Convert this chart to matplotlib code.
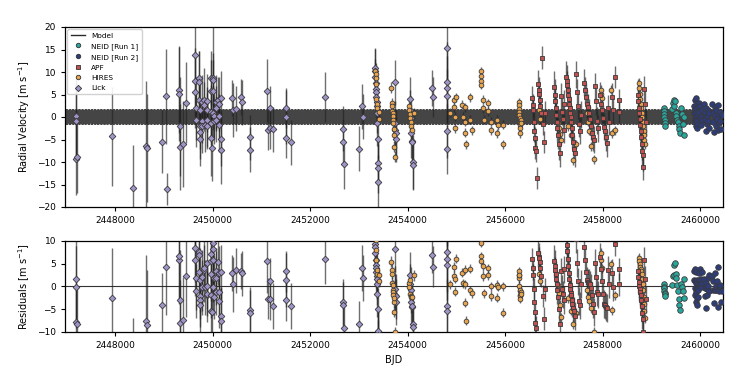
import numpy as np
import matplotlib
matplotlib.use("Agg")
import matplotlib.pyplot as plt
from matplotlib.lines import Line2D
from matplotlib.ticker import MultipleLocator, ScalarFormatter

# rows: BJD, RV [m/s], error [m/s]
lick_rows = [
    (2447195, -9.3, 8.0), (2447200, 0.3, 10.0), (2447210, -0.9, 9.0), (2447215, -8.8, 8.0),
    (2447943, -4.3, 11.0), (2448374, -15.8, 9.5), (2448630, -6.5, 14.5), (2448650, -6.8, 12.0),
    (2448968, -5.5, 7.0), (2449040, 4.6, 10.5), (2449060, -16.0, 3.5),
    (2449310, 6.0, 9.5), (2449318, 5.2, 10.5), (2449325, -2.0, 11.0), (2449330, -6.7, 9.5),
    (2449399, -6.0, 9.5), (2449461, 3.2, 9.0),
    (2449640, 13.8, 6.5), (2449645, 7.9, 7.5), (2449650, 5.6, 8.0), (2449655, 2.0, 7.0), (2449660, -0.6, 6.0),
    (2449720, 8.7, 6.0), (2449725, 7.7, 7.0), (2449730, 3.8, 5.0), (2449735, 1.6, 7.0),
    (2449740, -2.1, 5.0), (2449745, -3.3, 6.0), (2449750, -4.8, 6.0),
    (2449783, 3.4, 6.0), (2449786, -0.8, 5.0), (2449790, -1.9, 6.0),
    (2449830, 3.8, 7.0), (2449834, 2.7, 5.0), (2449838, -1.7, 6.0),
    (2449877, 3.6, 6.0), (2449880, 1.6, 5.0), (2449884, -0.6, 6.0), (2449888, -2.1, 5.0),
    (2449962, 8.7, 6.0), (2449966, 5.7, 7.0), (2449970, 1.2, 6.0), (2449973, -1.3, 5.0),
    (2449976, -4.7, 8.5), (2449980, -6.8, 7.5),
    (2450010, 8.7, 11.5), (2450014, 8.3, 6.0), (2450017, 5.7, 7.0), (2450020, 0.9, 6.0),
    (2450023, 0.2, 5.0), (2450026, -0.9, 5.0),
    (2450069, 3.4, 6.0), (2450072, 1.9, 5.0), (2450075, -0.6, 5.0),
    (2450120, 3.8, 5.0), (2450124, 2.8, 6.0), (2450128, 0.2, 5.0), (2450132, -1.8, 6.0),
    (2450172, 4.2, 6.0), (2450176, -4.8, 6.0), (2450180, -7.3, 7.5),
    (2450410, 4.2, 4.0), (2450415, 1.5, 6.0), (2450480, 1.8, 5.0),
    (2450590, 4.4, 4.0), (2450598, 3.3, 5.0), (2450770, -4.5, 5.0), (2450776, -7.3, 5.0),
    (2451125, 5.8, 7.0), (2451130, -2.8, 4.5), (2451183, 2.0, 5.0), (2451186, -2.5, 4.5),
    (2451231, -2.7, 5.0), (2451500, 2.0, 4.5), (2451505, -0.1, 6.0), (2451510, -4.7, 4.5),
    (2451608, -5.6, 5.0), (2452312, 4.4, 5.5),
    (2452675, -2.6, 5.0), (2452681, -5.5, 5.0), (2452687, -10.4, 5.5),
    (2453009, -7.0, 5.0), (2453070, 2.4, 5.0), (2453080, 0.1, 5.0),
    (2453330, 10.9, 4.5), (2453335, 10.2, 5.0), (2453340, 9.0, 4.0), (2453345, 7.5, 4.5),
    (2453350, 6.3, 5.0), (2453355, 5.5, 4.0), (2453360, 4.4, 4.5), (2453365, 3.3, 5.0),
    (2453370, 2.4, 4.0), (2453375, 1.0, 4.5), (2453380, -1.4, 5.0), (2453385, -4.9, 4.5),
    (2453390, -10.2, 5.0), (2453395, -11.4, 5.5), (2453400, -14.4, 6.0),
    (2453740, 7.7, 5.0), (2453745, -1.4, 5.0), (2453750, -2.9, 4.5), (2453755, -3.5, 5.0),
    (2453760, -4.9, 5.0),
    (2454050, 4.0, 5.0), (2454060, 1.5, 4.5), (2454070, -0.3, 5.0), (2454080, -3.5, 5.5),
    (2454090, -5.3, 5.0), (2454100, -5.5, 4.5), (2454110, -9.9, 6.0), (2454120, -10.7, 5.5),
    (2454505, 6.5, 4.0), (2454515, 4.4, 4.5),
    (2454800, 15.4, 8.0), (2454803, 7.7, 9.0), (2454806, 6.5, 7.0), (2454809, 4.6, 6.0),
    (2454812, -3.2, 6.0), (2454815, -7.2, 5.5),
]

hires_rows = [
    (2453342, 10.2, 1.2), (2453348, 9.5, 1.2), (2453352, 8.6, 1.2), (2453358, 7.3, 1.2),
    (2453362, 4.0, 1.2), (2453368, 2.8, 1.2), (2453372, 2.0, 1.2), (2453410, 1.2, 1.2),
    (2453415, -0.4, 1.2),
    (2453665, 6.5, 1.2), (2453672, 3.1, 1.2), (2453680, 2.4, 1.2), (2453688, 1.4, 1.2),
    (2453695, 0.8, 1.2), (2453700, 0.2, 1.2), (2453705, -0.6, 1.2), (2453712, -1.4, 1.2),
    (2453720, -2.7, 1.2), (2453726, -4.0, 1.2), (2453732, -6.6, 1.2), (2453738, -8.8, 1.2),
    (2454030, 2.5, 1.2), (2454040, 1.6, 1.2), (2454048, 0.6, 1.2), (2454055, -0.3, 1.2),
    (2454065, -1.2, 1.2), (2454075, -2.0, 1.2), (2454085, -2.8, 1.2), (2454130, 0.8, 1.2),
    (2454870, 1.0, 1.0), (2454957, 3.8, 1.0), (2454962, 2.2, 1.0), (2454966, 0.1, 1.0),
    (2454970, -2.5, 1.0), (2454990, 4.4, 1.0),
    (2455125, 2.7, 1.0), (2455130, 0.1, 1.0), (2455180, 2.2, 1.0), (2455184, -1.0, 1.0),
    (2455188, -3.5, 1.0), (2455192, -6.0, 1.0), (2455285, 4.4, 1.0), (2455290, -0.6, 1.0),
    (2455320, -2.9, 1.0),
    (2455505, 10.2, 1.0), (2455509, 9.2, 1.0), (2455513, 7.9, 1.0), (2455517, 7.2, 1.0),
    (2455545, 3.8, 1.0), (2455550, 2.0, 1.0), (2455570, -0.6, 1.0),
    (2455655, 3.1, 1.0), (2455660, 1.3, 1.0), (2455710, -1.0, 1.0), (2455715, -2.9, 1.0),
    (2455830, -0.6, 1.0), (2455835, -3.6, 1.0), (2455860, -1.8, 1.0),
    (2455962, -1.7, 1.0), (2455968, -6.0, 1.0),
    (2456280, 3.3, 1.0), (2456284, 2.6, 1.0), (2456288, 1.8, 1.0), (2456292, 1.1, 1.0),
    (2456296, 0.4, 1.0), (2456300, -0.3, 1.0), (2456304, -1.0, 1.0), (2456308, -1.7, 1.0),
    (2456312, -2.5, 1.0), (2456316, -3.6, 1.0), (2456325, -0.6, 1.0), (2456330, -1.4, 1.0),
    (2456700, 1.6, 1.0), (2456720, -0.5, 1.0), (2457080, -1.3, 1.0), (2457100, -2.5, 1.0),
    (2457120, -3.8, 1.0), (2457150, -5.2, 1.0), (2457300, -2.0, 1.0), (2457350, -4.0, 1.0),
    (2457400, -9.6, 1.0), (2457460, -6.0, 1.0), (2457680, 0.8, 1.0), (2457700, -1.0, 1.0),
    (2457720, -3.0, 1.0), (2457760, -6.5, 1.0), (2457820, -9.4, 1.0),
    (2457960, 6.1, 1.0), (2457975, 5.2, 1.0), (2457990, 4.3, 1.0),
    (2458180, 6.1, 1.0), (2458200, -3.6, 1.0), (2458260, -2.9, 1.0),
    (2458740, 7.6, 1.0), (2458750, 6.5, 1.0), (2458760, 5.2, 1.0), (2458770, 4.0, 1.0),
    (2458780, 3.0, 1.0), (2458790, 2.0, 1.0), (2458800, 1.0, 1.0), (2458810, 0.0, 1.0),
    (2458820, -1.0, 1.0), (2458830, -2.0, 1.0), (2458840, -3.0, 1.0), (2458850, -4.0, 1.0),
    (2458860, -5.0, 1.0), (2458870, -6.0, 1.0),
]

apf_rows = [
    (2456560, 4.3, 2.5), (2456570, 2.6, 2.5), (2456580, 1.5, 2.5), (2456590, -1.0, 2.5),
    (2456600, -3.1, 2.5), (2456610, -4.7, 2.5), (2456620, -6.8, 2.5), (2456630, -7.5, 2.5),
    (2456650, -13.6, 2.5), (2456680, 7.4, 3.0), (2456690, 6.0, 3.0), (2456700, 5.2, 2.5),
    (2456710, 3.8, 2.5), (2456720, 2.4, 2.5), (2456740, 0.8, 2.5), (2456760, 13.2, 2.5),
    (2456780, -1.5, 2.5), (2456800, -5.6, 2.5), (2456820, 1.0, 2.5),
    (2457010, 6.7, 3.5), (2457020, 5.0, 3.5), (2457030, 3.5, 3.0), (2457040, 2.0, 3.0),
    (2457050, 0.5, 3.0), (2457060, -1.0, 3.0), (2457070, -2.5, 3.0), (2457080, -4.0, 3.0),
    (2457100, -6.0, 3.5), (2457120, -8.1, 3.0), (2457140, 4.6, 3.0), (2457160, 1.2, 3.0),
    (2457180, -0.5, 3.0), (2457200, -2.8, 3.0), (2457215, 3.0, 3.0),
    (2457260, 9.0, 3.5), (2457270, 8.0, 3.5), (2457280, 7.2, 3.0), (2457290, 6.0, 3.0),
    (2457300, 5.0, 3.0), (2457310, 4.0, 3.0), (2457320, 3.0, 3.0), (2457330, 2.0, 3.0),
    (2457340, 1.0, 3.0), (2457350, 0.0, 3.0), (2457360, -1.0, 3.0), (2457370, -2.5, 3.0),
    (2457380, -4.0, 3.0), (2457390, -5.5, 3.0), (2457410, -7.0, 3.0), (2457430, -8.1, 3.0),
    (2457450, 9.5, 3.0), (2457470, 5.5, 3.0), (2457490, 2.5, 3.0), (2457510, -1.5, 3.0),
    (2457530, -3.0, 3.0), (2457550, 0.5, 3.0),
    (2457620, 7.6, 3.0), (2457640, 6.0, 3.0), (2457660, 4.5, 3.0), (2457680, 3.0, 3.0),
    (2457700, 2.2, 3.0), (2457720, 1.0, 3.0), (2457740, -0.5, 3.0), (2457760, -2.0, 3.0),
    (2457780, -3.5, 3.0), (2457800, -4.5, 3.0), (2457820, -5.1, 3.0), (2457850, 6.8, 3.0),
    (2457870, 3.5, 3.0), (2457890, -0.8, 3.0), (2457910, -2.5, 3.0),
    (2457950, 4.8, 3.0), (2457970, 3.0, 3.0), (2457990, 1.6, 3.0), (2458010, -0.3, 3.0),
    (2458030, -2.2, 3.0), (2458050, -3.0, 3.0), (2458070, -4.5, 3.0), (2458090, -5.8, 3.0),
    (2458110, 2.0, 3.0), (2458130, -1.0, 3.0), (2458190, 4.5, 3.0), (2458210, 1.5, 3.0),
    (2458250, 8.9, 2.5), (2458330, 3.7, 2.5), (2458345, 1.2, 2.5),
    (2458720, 5.0, 3.5), (2458735, 3.5, 3.5), (2458745, 2.0, 3.5), (2458755, 0.8, 3.5),
    (2458765, -0.5, 3.5), (2458775, -1.8, 3.5), (2458785, -3.0, 3.5), (2458795, -4.5, 3.5),
    (2458805, -6.0, 3.5), (2458815, -7.5, 3.5), (2458825, -8.5, 3.5), (2458835, -11.1, 3.0),
    (2458860, 6.2, 3.0), (2458880, 3.0, 3.0), (2458900, -1.2, 3.0),
]

neid1_rows = [
    (2459255, 2.0, 0.4), (2459260, 1.3, 0.4), (2459265, 0.7, 0.4), (2459270, 0.0, 0.4),
    (2459275, -0.7, 0.4), (2459280, -1.4, 0.4), (2459285, -2.0, 0.4),
    (2459430, 1.8, 0.4), (2459445, 3.2, 0.4), (2459460, 2.5, 0.4), (2459475, 3.8, 0.4),
    (2459490, 3.5, 0.4), (2459500, 1.0, 0.4), (2459515, 0.2, 0.4), (2459530, -0.6, 0.4),
    (2459545, -1.2, 0.4), (2459560, -2.0, 0.4), (2459575, -2.6, 0.4), (2459590, -3.6, 0.4),
    (2459605, 2.0, 0.4), (2459620, 0.6, 0.4), (2459640, -1.5, 0.4), (2459660, -4.0, 0.4),
    (2459680, 0.0, 0.4),
]

neid2_rows = [
    (2459880, 2.5, 0.3), (2459885, 0.8, 0.3), (2459890, -0.5, 0.3), (2459895, 3.8, 0.3),
    (2459900, 1.6, 0.3), (2459905, -1.2, 0.3), (2459910, 4.2, 0.3), (2459915, 2.0, 0.3),
    (2459920, 0.2, 0.3), (2459925, -2.0, 0.3), (2459930, 3.0, 0.3), (2459935, 1.0, 0.3),
    (2459940, -0.8, 0.3), (2459945, -2.5, 0.3), (2459950, 2.2, 0.3), (2459955, 0.5, 0.3),
    (2459965, -1.5, 0.3), (2459975, 3.2, 0.3), (2459985, 1.2, 0.3), (2459995, -0.3, 0.3),
    (2460005, 2.4, 0.3), (2460015, 0.0, 0.3), (2460025, -1.8, 0.3), (2460035, 1.5, 0.3),
    (2460045, -0.6, 0.3),
    (2460090, 2.9, 0.3), (2460100, 1.2, 0.3), (2460110, -0.5, 0.3), (2460120, -3.1, 0.3),
    (2460130, 2.0, 0.3), (2460140, 0.3, 0.3), (2460150, -1.6, 0.3), (2460160, 1.5, 0.3),
    (2460170, -0.9, 0.3), (2460180, -2.4, 0.3), (2460190, 0.8, 0.3),
    (2460250, 2.9, 0.3), (2460262, 0.9, 0.3), (2460274, -1.0, 0.3), (2460286, -3.3, 0.3),
    (2460298, 2.2, 0.3), (2460310, 0.2, 0.3), (2460322, -2.0, 0.3), (2460334, 1.6, 0.3),
    (2460346, -0.4, 0.3), (2460358, -2.8, 0.3), (2460370, 2.6, 0.3), (2460382, 0.6, 0.3),
    (2460394, -1.4, 0.3), (2460406, 1.2, 0.3), (2460418, -0.8, 0.3), (2460430, -2.6, 0.3),
    (2460440, 0.4, 0.3),
]

# simple circular model (semi-amplitude, period)
model_amp = 1.7
model_period = 4.86
model_t0 = 2450000.0

xlim = (2446980, 2460470)


def model(t):
    return model_amp * np.sin(2 * np.pi * (t - model_t0) / model_period)


# name, rows, marker, colour, size
instruments = [
    ("Lick", lick_rows, "D", "#a093c8", 3.4),
    ("HIRES", hires_rows, "o", "#e9a44e", 3.4),
    ("APF", apf_rows, "s", "#c1504f", 3.4),
    ("NEID [Run 1]", neid1_rows, "o", "#2aa79d", 4.0),
    ("NEID [Run 2]", neid2_rows, "o", "#2e3d7a", 4.0),
]

plt.rcParams["font.family"] = "DejaVu Sans"
fig = plt.figure(figsize=(7.5, 3.75), dpi=100)
ax1 = fig.add_axes([0.087, 0.448, 0.877, 0.480])
ax2 = fig.add_axes([0.087, 0.115, 0.877, 0.243])

tm = np.linspace(xlim[0], xlim[1], 6000)
ax1.plot(tm, model(tm), color="#111111", lw=0.45, alpha=0.78, zorder=1)
ax2.axhline(0, color="#333333", lw=0.8, zorder=1)

for name, rows, mk, col, ms in instruments:
    t, rv, err = np.array(rows, dtype=float).T
    res = rv - model(t)
    for ax, y in ((ax1, rv), (ax2, res)):
        ax.errorbar(t, y, yerr=err, fmt="none", ecolor="#222222", elinewidth=1.0,
                    alpha=0.65, zorder=2)
        ax.plot(t, y, ls="none", marker=mk, ms=ms, mfc=col, mec="#3a3a3a",
                mew=0.6, zorder=3)

handles = [Line2D([], [], color="#2a2a2a", lw=1.0, label="Model")]
for name in ["NEID [Run 1]", "NEID [Run 2]", "APF", "HIRES", "Lick"]:
    _, _, mk, col, ms = [i for i in instruments if i[0] == name][0]
    handles.append(Line2D([], [], ls="none", marker=mk, ms=3.2, mfc=col,
                          mec="#333333", mew=0.6, label=name))
ax1.legend(handles=handles, loc="upper left", fontsize=5.3, frameon=True,
           framealpha=0.9, edgecolor="#cccccc", borderpad=0.45,
           labelspacing=0.55, handlelength=2.0, borderaxespad=0.3)

for ax in (ax1, ax2):
    ax.set_xlim(*xlim)
    ax.xaxis.set_major_locator(MultipleLocator(2000))
    fmt = ScalarFormatter(useOffset=False)
    fmt.set_scientific(False)
    ax.xaxis.set_major_formatter(fmt)
    ax.tick_params(labelsize=6.5, direction="out", length=3, width=0.8)
    for s in ax.spines.values():
        s.set_linewidth(0.9)

ax1.set_ylim(-20, 20)
ax1.yaxis.set_major_locator(MultipleLocator(5))
ax2.set_ylim(-10, 10)
ax2.yaxis.set_major_locator(MultipleLocator(5))

ax1.set_ylabel("Radial Velocity [m s$^{-1}$]", fontsize=7)
ax2.set_ylabel("Residuals [m s$^{-1}$]", fontsize=7)
ax2.set_xlabel("BJD", fontsize=7)

fig.savefig("out.png", dpi=100)
